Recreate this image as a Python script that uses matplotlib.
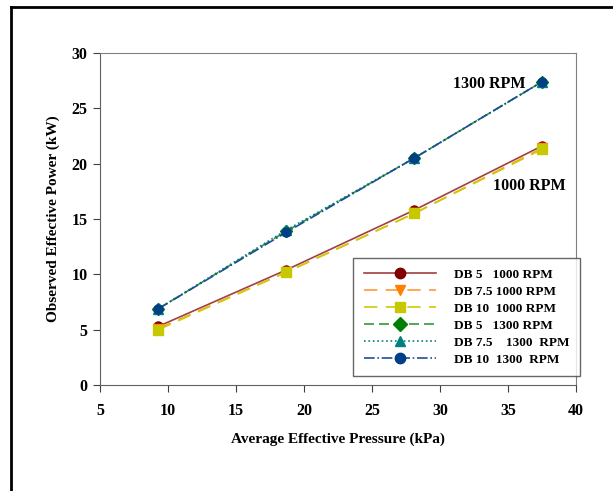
import matplotlib
matplotlib.use("Agg")
import matplotlib.pyplot as plt
from matplotlib.lines import Line2D

plt.rcParams['font.family'] = ['Liberation Serif', 'DejaVu Serif']
plt.rcParams['font.weight'] = 'bold'

# average effective pressure (kPa)
pressure = [9.3, 18.7, 28.1, 37.5]

# observed effective power (kW)
db5_1000 = [5.3, 10.4, 15.8, 21.6]
db75_1000 = [5.1, 10.2, 15.5, 21.4]
db10_1000 = [5.0, 10.2, 15.5, 21.3]
db5_1300 = [6.9, 13.9, 20.5, 27.4]
db75_1300 = [6.9, 14.0, 20.5, 27.4]
db10_1300 = [6.9, 13.8, 20.5, 27.4]

series = [
    ("DB 5   1000 RPM", db5_1000, "#a04040", "-", "o", "#800000"),
    ("DB 7.5 1000 RPM", db75_1000, "#ff9933", (0, (8, 5)), "v", "#ff7f00"),
    ("DB 10  1000 RPM", db10_1000, "#cccc00", (0, (8, 5)), "s", "#c8c800"),
    ("DB 5   1300 RPM", db5_1300, "#339933", (0, (6, 3)), "D", "#008000"),
    ("DB 7.5    1300  RPM", db75_1300, "#008080", ":", "^", "#008080"),
    ("DB 10  1300  RPM", db10_1300, "#1f4e9a", "-.", "o", "#003f87"),
]

fig = plt.figure(figsize=(6.13, 4.91), dpi=100)
ax = fig.add_axes([100 / 613, 1 - 385 / 491, 476 / 613, 332 / 491])

handles = []
for label, vals, lc, ls, mk, mc in series:
    h, = ax.plot(pressure, vals, color=lc, linestyle=ls, linewidth=1.2,
                 marker=mk, markersize=6.5, markerfacecolor=mc,
                 markeredgecolor=mc, label=label)
    handles.append(h)

ax.set_xlim(5, 40)
ax.set_ylim(0, 30)
ax.set_xticks(range(5, 41, 5))
ax.set_yticks(range(0, 31, 5))
for s in ax.spines.values():
    s.set_color("#808080")
ax.spines['left'].set_color("#606060")
ax.spines['bottom'].set_color("#606060")
ax.tick_params(axis='x', direction='out', length=5, color="#404040",
               labelsize=11.5, pad=8)
ax.tick_params(axis='y', direction='out', length=5, color="#404040",
               labelsize=11.5, pad=4)
for t in ax.get_xticklabels() + ax.get_yticklabels():
    t.set_fontweight('bold')

ax.set_xlabel("Average Effective Pressure (kPa)", fontsize=11,
              fontweight='bold', labelpad=10)
ax.set_ylabel("Observed Effective Power (kW)", fontsize=11,
              fontweight='bold', labelpad=8)

ax.text(36.3, 27.2, "1300 RPM", fontsize=11.5, fontweight='bold',
        ha='right', va='center')
ax.text(36.6, 18.0, "1000 RPM", fontsize=11.5, fontweight='bold',
        ha='center', va='center')

leg = fig.legend(handles=handles, loc='upper left',
                 bbox_to_anchor=(353 / 613, 1 - 258 / 491),
                 borderaxespad=0, fontsize=9.5, frameon=True, fancybox=False,
                 handlelength=5.5, borderpad=0.8, labelspacing=0.36,
                 handletextpad=1.35, markerscale=1.15)
leg.get_frame().set_edgecolor("#404040")
leg.get_frame().set_linewidth(1.0)
for t in leg.get_texts():
    t.set_fontweight('bold')

# outer frame, left and top edges
fig.add_artist(Line2D([11 / 613, 11 / 613], [0, 1 - 7 / 491],
                      transform=fig.transFigure, color='black', linewidth=2))
fig.add_artist(Line2D([11 / 613, 1], [1 - 7 / 491, 1 - 7 / 491],
                      transform=fig.transFigure, color='black', linewidth=2))

fig.savefig("out.png", dpi=100)
